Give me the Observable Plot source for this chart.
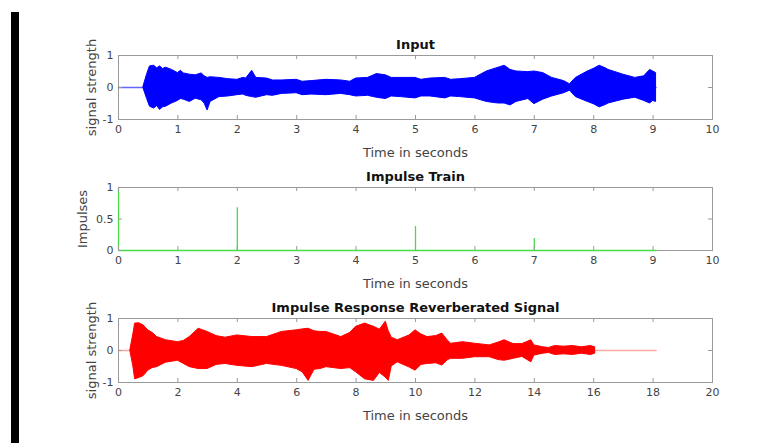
<!DOCTYPE html>
<html>
<head>
<meta charset="utf-8">
<script src="https://cdn.jsdelivr.net/npm/d3@7"></script>
<script src="https://cdn.jsdelivr.net/npm/@observablehq/plot@0.6"></script>
<style>
  body { margin: 0; background: white; }
  #wrap { position: relative; width: 775px; height: 443px; overflow: hidden; background: white; }
  #bar { position: absolute; left: 11px; top: 12px; width: 8px; height: 431px; background: black; z-index: 10; }
  .p { position: absolute; left: 0; }
</style>
</head>
<body>
<div id="wrap"><div id="bar"></div></div>
<script>
// ---- Data ----
const inputTicksX = [0, 1, 2, 3, 4, 5, 6, 7, 8, 9, 10];
const outputTicksX = [0, 2, 4, 6, 8, 10, 12, 14, 16, 18, 20];
const signalTicksY = [-1, 0, 1];
const impulseTicksY = [0, 0.5, 1];

const inputDuration = 9.05;
const outputDuration = 18.1;

// Input signal envelope
const inT  = [0.42,0.48,0.53,0.6,0.65,0.7,0.75,0.8,0.9,1.0,1.05,1.1,1.2,1.3,1.4,1.45,1.5,1.55,1.7,1.85,2.0,2.1,2.15,2.25,2.32,2.5,2.6,2.75,3.0,3.1,3.25,3.5,3.75,3.9,4.0,4.2,4.35,4.5,4.6,4.75,5.0,5.1,5.25,5.5,5.6,5.75,6.0,6.2,6.3,6.4,6.5,6.6,6.7,6.9,7.0,7.15,7.3,7.5,7.6,7.7,7.9,8.0,8.1,8.2,8.25,8.5,8.7,8.85,8.95,9.0,9.05];
const inUp = [0.02,0.4,0.66,0.68,0.6,0.66,0.58,0.62,0.55,0.45,0.52,0.44,0.4,0.38,0.44,0.35,0.3,0.32,0.3,0.26,0.24,0.3,0.28,0.52,0.3,0.28,0.22,0.22,0.24,0.18,0.2,0.24,0.22,0.18,0.28,0.3,0.42,0.38,0.3,0.3,0.3,0.24,0.28,0.3,0.24,0.26,0.3,0.5,0.56,0.62,0.68,0.55,0.5,0.48,0.5,0.45,0.3,0.2,0.1,0.3,0.5,0.58,0.68,0.6,0.55,0.4,0.3,0.35,0.55,0.5,0.45];
const inLo = [-0.02,-0.35,-0.6,-0.66,-0.58,-0.7,-0.62,-0.6,-0.5,-0.42,-0.36,-0.38,-0.45,-0.35,-0.4,-0.5,-0.72,-0.45,-0.3,-0.28,-0.24,-0.22,-0.26,-0.3,-0.32,-0.24,-0.26,-0.2,-0.18,-0.24,-0.22,-0.24,-0.2,-0.24,-0.28,-0.26,-0.32,-0.36,-0.28,-0.3,-0.34,-0.28,-0.28,-0.34,-0.28,-0.3,-0.34,-0.45,-0.48,-0.5,-0.5,-0.56,-0.45,-0.36,-0.52,-0.38,-0.28,-0.18,-0.1,-0.3,-0.45,-0.52,-0.62,-0.55,-0.5,-0.38,-0.32,-0.42,-0.5,-0.42,-0.45];

// Impulse train
const impulseTimes = [0, 2, 5, 7];
const impulseHeights = [1, 0.68, 0.38, 0.19];

// Reverberated output envelope
const outT  = [0.4,0.5,0.56,0.7,0.85,1.0,1.15,1.3,1.6,2.0,2.2,2.4,2.7,3.0,3.3,3.6,4.0,4.5,5.0,5.5,6.0,6.2,6.4,6.6,6.8,7.0,7.5,7.8,8.0,8.3,8.6,8.8,9.0,9.1,9.2,9.4,9.8,10.0,10.2,10.4,10.7,10.9,11.1,11.2,11.6,12.0,12.5,12.8,13.0,13.3,13.6,13.9,14.0,14.3,14.5,14.7,15.0,15.3,15.6,15.9,16.05];
const outUp = [0.02,0.5,0.84,0.85,0.78,0.63,0.55,0.42,0.32,0.26,0.3,0.42,0.68,0.58,0.45,0.4,0.47,0.42,0.42,0.58,0.63,0.66,0.68,0.6,0.58,0.58,0.42,0.55,0.74,0.84,0.74,0.65,0.9,0.6,0.4,0.32,0.47,0.63,0.5,0.42,0.45,0.53,0.3,0.21,0.26,0.21,0.16,0.25,0.32,0.2,0.2,0.32,0.16,0.1,0.08,0.14,0.12,0.14,0.1,0.14,0.1];
const outLo = [-0.02,-0.5,-0.9,-0.86,-0.8,-0.63,-0.55,-0.52,-0.38,-0.32,-0.42,-0.52,-0.58,-0.58,-0.45,-0.42,-0.48,-0.52,-0.42,-0.48,-0.58,-0.68,-0.95,-0.6,-0.58,-0.52,-0.58,-0.55,-0.68,-0.9,-0.95,-0.7,-0.85,-0.95,-0.5,-0.37,-0.53,-0.63,-0.45,-0.42,-0.4,-0.47,-0.3,-0.26,-0.26,-0.21,-0.21,-0.3,-0.32,-0.26,-0.2,-0.37,-0.16,-0.1,-0.08,-0.14,-0.12,-0.14,-0.1,-0.14,-0.1];

// ---- Tables built from the arrays ----
const inputEnv = inT.map((t, i) => ({t, up: inUp[i], lo: inLo[i]}));
const outputEnv = outT.map((t, i) => ({t, up: outUp[i], lo: outLo[i]}));
const impulses = impulseTimes.map((t, i) => ({t, h: impulseHeights[i]}));

const AXIS = "#9a9a9a";
const TEXT = "#444";
const W = 775, ML = 118, MR = 63, MT = 20, MB = 42;
const fmt = d => String(d);

function panel({xDomain, xTicks, yDomain, yTicks, title, ylabel, ylabelDx, frameH, marks}) {
  const fw = W - ML - MR;
  return Plot.plot({
    width: W, height: MT + frameH + MB,
    marginTop: MT, marginBottom: MB, marginLeft: ML, marginRight: MR,
    style: {fontFamily: "'DejaVu Sans', sans-serif", fontSize: "11px", color: TEXT, background: "transparent", overflow: "visible"},
    x: {domain: xDomain},
    y: {domain: yDomain},
    marks: [
      Plot.frame({stroke: AXIS}),
      ...marks,
      Plot.ruleX(xTicks, {x: d => d, insetTop: frameH - 4, stroke: AXIS}),
      Plot.ruleX(xTicks, {x: d => d, insetBottom: frameH - 4, stroke: AXIS}),
      Plot.ruleY(yTicks, {y: d => d, insetRight: fw - 4, stroke: AXIS}),
      Plot.ruleY(yTicks, {y: d => d, insetLeft: fw - 4, stroke: AXIS}),
      Plot.axisX(xTicks, {tickSize: 0, tickPadding: 6, label: null, fill: TEXT, tickFormat: fmt}),
      Plot.axisY(yTicks, {tickSize: 0, tickPadding: 5, label: null, fill: TEXT, tickFormat: fmt}),
      Plot.text([title], {frameAnchor: "top", lineAnchor: "middle", dy: -11, text: d => d, fontWeight: "bold", fontSize: 13, fill: "#111"}),
      Plot.text(["Time in seconds"], {frameAnchor: "bottom", lineAnchor: "middle", dy: 33, text: d => d, fontSize: 13, fill: TEXT}),
      Plot.text([ylabel], {frameAnchor: "left", dx: ylabelDx, rotate: -90, textAnchor: "middle", text: d => d, fontSize: 13, fill: TEXT})
    ]
  });
}

const p1 = panel({
  xDomain: [0, 10], xTicks: inputTicksX, yDomain: [-1, 1], yTicks: signalTicksY,
  title: "Input", ylabel: "signal strength", ylabelDx: -27, frameH: 64,
  marks: [
    Plot.lineY([0, inputDuration], {x: d => d, y: () => 0, stroke: "#0000ff", strokeOpacity: 0.6}),
    Plot.areaY(inputEnv, {x: "t", y1: "lo", y2: "up", fill: "#0000ff", stroke: "#0000ff", strokeWidth: 1, curve: "linear"})
  ]
});

const p2 = panel({
  xDomain: [0, 10], xTicks: inputTicksX, yDomain: [0, 1], yTicks: impulseTicksY,
  title: "Impulse Train", ylabel: "Impulses", ylabelDx: -36, frameH: 63,
  marks: [
    Plot.lineY([0, inputDuration], {x: d => d, y: () => 0, stroke: "#44dd44", strokeWidth: 1.3}),
    Plot.ruleX(impulses, {x: "t", y1: 0, y2: "h", stroke: "#44dd44", strokeWidth: 1.3})
  ]
});

const p3 = panel({
  xDomain: [0, 20], xTicks: outputTicksX, yDomain: [-1, 1], yTicks: signalTicksY,
  title: "Impulse Response Reverberated Signal", ylabel: "signal strength", ylabelDx: -27, frameH: 64,
  marks: [
    Plot.lineY([0, outputDuration], {x: d => d, y: () => 0, stroke: "#ff0000", strokeOpacity: 0.35}),
    Plot.areaY(outputEnv, {x: "t", y1: "lo", y2: "up", fill: "#ff0000", stroke: "#ff0000", strokeWidth: 1, curve: "linear"})
  ]
});

const wrap = document.getElementById("wrap");
[[p1, 35], [p2, 167], [p3, 298]].forEach(([svg, top]) => {
  svg.classList.add("p");
  svg.style.top = top + "px";
  wrap.appendChild(svg);
});
</script>
</body>
</html>
